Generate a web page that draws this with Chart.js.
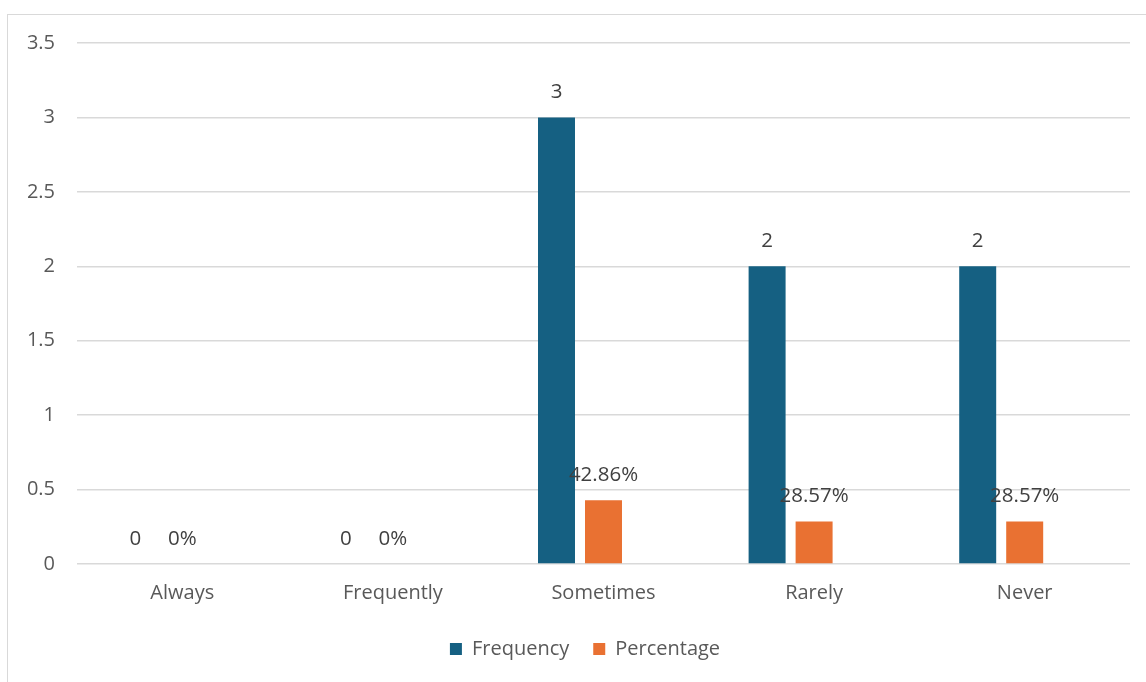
<!DOCTYPE html>
<html>
<head>
<meta charset="utf-8">
<script src="https://cdn.jsdelivr.net/npm/chart.js@4"></script>
<style>
  html, body { margin: 0; padding: 0; background: #fff; overflow: hidden; }
  #frame {
    position: absolute; left: 7px; top: 14px; width: 1160px; height: 700px;
    border-left: 1px solid #d9d9d9; border-top: 1px solid #d9d9d9;
  }
  #box { position: absolute; left: 0; top: 0; width: 1139px; height: 668px; }
</style>
</head>
<body>
<div id="frame"><div id="box"><canvas id="c"></canvas></div></div>
<script>
const categories = ['Always', 'Frequently', 'Sometimes', 'Rarely', 'Never'];
const frequency = [0, 0, 3, 2, 2];
const percentage = [0, 0, 0.4286, 0.2857, 0.2857];
const yTicks = [0, 0.5, 1, 1.5, 2, 2.5, 3, 3.5];

const FONT = '"Open Sans", sans-serif';

// Value labels above each bar, read from the bar elements themselves
const valueLabels = {
  id: 'valueLabels',
  afterDatasetsDraw(chart) {
    const ctx = chart.ctx;
    ctx.save();
    ctx.font = '20.5px ' + FONT;
    ctx.fillStyle = '#404040';
    ctx.textAlign = 'center';
    ctx.textBaseline = 'middle';
    chart.data.datasets.forEach((ds, i) => {
      if (!ds.labelFormat) return;
      const meta = chart.getDatasetMeta(i);
      meta.data.forEach((bar, j) => {
        const v = ds.data[j];
        if (v === null || v === undefined) return;
        ctx.fillText(ds.labelFormat(v), bar.x, bar.y - 25);
      });
    });
    ctx.restore();
  }
};

// Nudge the legend a little to the right of the canvas centre
const legendOffset = {
  id: 'legendOffset',
  afterLayout(chart) {
    const lg = chart.legend;
    if (lg) { lg.left += 16; lg.right += 16; }
  }
};

new Chart(document.getElementById('c'), {
  type: 'bar',
  data: {
    labels: categories,
    datasets: [
      { label: 'Frequency', data: frequency, backgroundColor: '#156082',
        labelFormat: v => String(v) },
      { label: 'Percentage', data: percentage, backgroundColor: '#E97132',
        labelFormat: v => (Math.round(v * 10000) / 100) + '%' },
      // empty third slot in each group (keeps Excel-style group spacing)
      { label: '', data: categories.map(() => null), backgroundColor: 'rgba(0,0,0,0)' }
    ]
  },
  options: {
    responsive: true,
    maintainAspectRatio: false,
    animation: false,
    categoryPercentage: 0.6695,
    barPercentage: 0.787,
    layout: { padding: { left: 0, right: 17, top: 28, bottom: 14 } },
    plugins: {
      legend: {
        position: 'bottom',
        labels: {
          boxWidth: 12, boxHeight: 12, padding: 24,
          color: '#595959', font: { family: FONT, size: 20 },
          filter: item => item.text !== ''
        }
      },
      tooltip: { enabled: false }
    },
    scales: {
      x: {
        grid: { display: false, drawTicks: false },
        border: { display: false },
        ticks: { color: '#595959', font: { family: FONT, size: 20 }, padding: 17 },
        afterFit: s => { s.height = 51; s.paddingLeft = 0; s.paddingRight = 0; }
      },
      y: {
        min: 0, max: 3.5,
        afterBuildTicks: s => { s.ticks = yTicks.map(v => ({ value: v })); },
        grid: { color: '#d9d9d9', lineWidth: 1.5, drawTicks: false },
        border: { display: false },
        ticks: { color: '#595959', font: { family: FONT, size: 20 }, padding: 22,
                 callback: v => String(v) },
        afterFit: s => { s.width = 69; s.paddingTop = 0; s.paddingBottom = 0; }
      }
    }
  },
  plugins: [valueLabels, legendOffset]
});
</script>
</body>
</html>
